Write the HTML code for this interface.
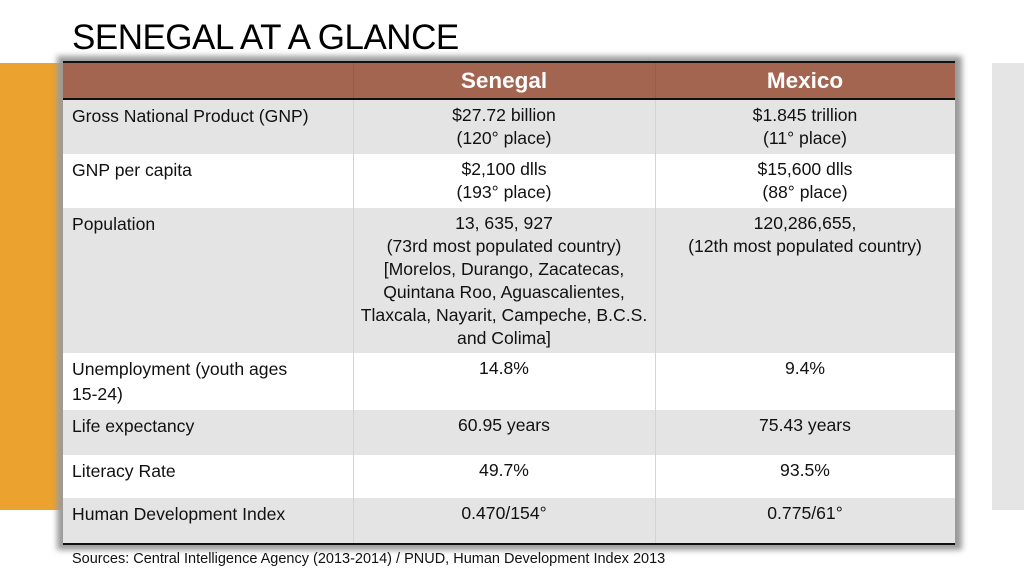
<!DOCTYPE html>
<html><head><meta charset="utf-8"><style>
body{margin:0;width:1024px;height:576px;position:relative;background:#fff;overflow:hidden;font-family:"Liberation Sans",sans-serif;color:#111}
div{position:absolute;box-sizing:border-box}
.title{left:72px;top:18px;font-size:35px;letter-spacing:-0.5px;color:#000}
.row{left:63px;width:892px}
.c{font-size:17.6px;line-height:23px}
.lbl{left:9px;top:5px;width:285px;white-space:nowrap}
.s{left:290px;width:302px;text-align:center;top:4px;white-space:nowrap}
.m{left:592px;width:300px;text-align:center;top:4px;white-space:nowrap}
.vl{top:0;bottom:0;width:1px;background:#d4d4d4}
</style></head><body>
<div class="title">SENEGAL AT A GLANCE</div>
<div style="left:0;top:63px;width:63px;height:447px;background:#eca22f"></div>
<div style="left:992px;top:63px;width:32px;height:447px;background:#e5e5e5"></div>
<div style="left:57px;top:56px;width:905px;height:494px;background:#9a9a9a;filter:blur(3px)"></div>
<div style="left:63px;top:61px;width:892px;height:484px;background:#fff;border-top:2px solid #111;border-bottom:2px solid #111"></div>
<div class="row" style="top:63px;height:37px;background:#a36450;border-bottom:2px solid #111">
 <div class="vl" style="left:290px;background:#9a5a46"></div><div class="vl" style="left:592px;background:#9a5a46"></div>
 <div style="left:290px;width:302px;top:5px;text-align:center;color:#fff;font-weight:bold;font-size:22.5px">Senegal</div>
 <div style="left:592px;width:300px;top:5px;text-align:center;color:#fff;font-weight:bold;font-size:22.5px">Mexico</div>
</div>
<div class="row c" style="top:100px;height:54px;background:#e4e4e4"><div class="vl" style="left:290px"></div><div class="vl" style="left:592px"></div>
 <div class="lbl">Gross National Product (GNP)</div><div class="s">$27.72 billion<br>(120° place)</div><div class="m">$1.845 trillion<br>(11° place)</div></div>
<div class="row c" style="top:154px;height:54px;background:#fff"><div class="vl" style="left:290px"></div><div class="vl" style="left:592px"></div>
 <div class="lbl">GNP per capita</div><div class="s">$2,100 dlls<br>(193° place)</div><div class="m">$15,600 dlls<br>(88° place)</div></div>
<div class="row c" style="top:208px;height:145px;background:#e4e4e4"><div class="vl" style="left:290px"></div><div class="vl" style="left:592px"></div>
 <div class="lbl">Population</div><div class="s">13, 635, 927<br>(73rd most populated country)<br>[Morelos, Durango, Zacatecas,<br>Quintana Roo, Aguascalientes,<br>Tlaxcala, Nayarit, Campeche, B.C.S.<br>and Colima]</div><div class="m">120,286,655,<br>(12th most populated country)</div></div>
<div class="row c" style="top:353px;height:57px;background:#fff"><div class="vl" style="left:290px"></div><div class="vl" style="left:592px"></div>
 <div class="lbl" style="line-height:25px;top:4px">Unemployment (youth ages<br>15-24)</div><div class="s">14.8%</div><div class="m">9.4%</div></div>
<div class="row c" style="top:410px;height:45px;background:#e4e4e4"><div class="vl" style="left:290px"></div><div class="vl" style="left:592px"></div>
 <div class="lbl">Life expectancy</div><div class="s">60.95 years</div><div class="m">75.43 years</div></div>
<div class="row c" style="top:455px;height:43px;background:#fff"><div class="vl" style="left:290px"></div><div class="vl" style="left:592px"></div>
 <div class="lbl">Literacy Rate</div><div class="s">49.7%</div><div class="m">93.5%</div></div>
<div class="row c" style="top:498px;height:45px;background:#e4e4e4"><div class="vl" style="left:290px"></div><div class="vl" style="left:592px"></div>
 <div class="lbl">Human Development Index</div><div class="s">0.470/154°</div><div class="m">0.775/61°</div></div>
<div style="left:72px;top:551px;font-size:14.5px;white-space:nowrap">Sources: Central Intelligence Agency (2013-2014) / PNUD, Human Development Index 2013</div>
</body></html>
